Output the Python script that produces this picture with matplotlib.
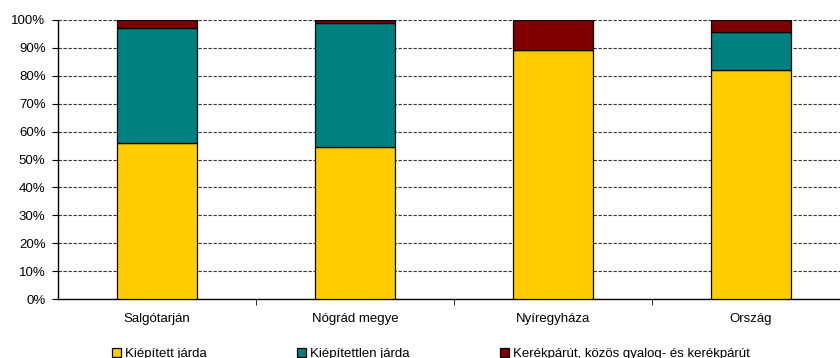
import matplotlib.pyplot as plt
import numpy as np
from matplotlib.patches import Patch
from matplotlib.ticker import PercentFormatter

plt.rcParams["font.family"] = ["Liberation Sans", "DejaVu Sans"]

categories = ["Salgótarján", "Nógrád megye", "Nyíregyháza", "Ország"]
kiepitett = [55.9, 54.5, 89.2, 82.1]
kiepitetlen = [41.2, 44.4, 0.0, 13.6]
kerekparut = [2.9, 1.1, 10.8, 4.3]
series_names = ["Kiépített járda", "Kiépítettlen járda",
                "Kerékpárút, közös gyalog- és kerékpárút"]
colors = ["#FFCC00", "#008080", "#800000"]

W, H = 840, 358
fig = plt.figure(figsize=(W / 100, H / 100), dpi=100)
# axes runs past the right edge of the picture, as in the original
ax = fig.add_axes([58 / W, 1 - 299 / H, (850 - 58) / W, (299 - 20) / H])

x = np.arange(len(categories))
bottom = np.zeros(len(categories))
for vals, col in zip([kiepitett, kiepitetlen, kerekparut], colors):
    vals = np.array(vals)
    ax.bar(x, vals, 0.4, bottom=bottom, color=col, edgecolor="black",
           linewidth=0.9, zorder=3)
    bottom += vals

ax.set_xlim(-0.5, len(categories) - 0.5)
ax.set_ylim(0, 100)
ax.set_yticks(np.arange(0, 101, 10))
ax.yaxis.set_major_formatter(PercentFormatter(decimals=0))
ax.set_xticks(x)
ax.set_xticklabels(categories)
ax.set_xticks(np.arange(0.5, len(categories) - 0.5, 1), minor=True)
ax.tick_params(axis="x", which="major", length=0, pad=10, labelsize=9.5)
ax.tick_params(axis="x", which="minor", length=4, direction="out")
ax.tick_params(axis="y", length=4, direction="out", labelsize=9.5, pad=5)
ax.yaxis.grid(True, color="#333333", linestyle=(0, (3, 1.5)), linewidth=0.8,
              zorder=0)
for s in ["top", "right"]:
    ax.spines[s].set_visible(False)
for s in ["left", "bottom"]:
    ax.spines[s].set_linewidth(1.0)
    ax.spines[s].set_color("black")

handles = [Patch(facecolor=c, edgecolor="black", linewidth=0.9) for c in colors]
fig.legend(handles, series_names, loc="upper left", ncol=3,
           bbox_to_anchor=(112 / W, 1 - 348 / H), frameon=False,
           fontsize=9.5, handlelength=0.65, handleheight=0.7,
           handletextpad=0.3, columnspacing=6.9, borderaxespad=0,
           borderpad=0)

fig.savefig("out.png", dpi=100)
